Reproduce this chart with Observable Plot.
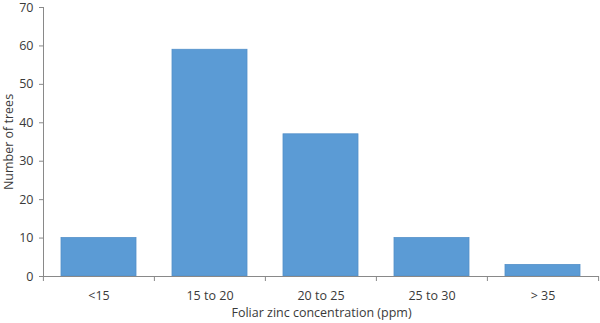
<!DOCTYPE html>
<html>
<head>
<meta charset="utf-8">
<script src="https://cdn.jsdelivr.net/npm/d3@7"></script>
<script src="https://cdn.jsdelivr.net/npm/@observablehq/plot@0.6"></script>
<style>
  html, body { margin: 0; padding: 0; background: #fff; }
  #chart svg { display: block; }
</style>
</head>
<body>
<div id="chart"></div>
<script>
const categories = ["<15", "15 to 20", "20 to 25", "25 to 30", "> 35"];
const trees = [10, 59, 37, 10, 3];
const yTicks = [0, 10, 20, 30, 40, 50, 60, 70];

const data = categories.map((c, i) => ({category: c, count: trees[i]}));

const W = 600, H = 323;
const mL = 43, mR = 1, mT = 7, mB = 47;
const step = (W - mL - mR) / categories.length;
const font = "'Open Sans', 'Noto Sans', sans-serif";
const axisColor = "#898989";
const textColor = "#3a3a3a";

const chart = Plot.plot({
  width: W,
  height: H,
  marginLeft: mL,
  marginRight: mR,
  marginTop: mT,
  marginBottom: mB,
  style: {fontFamily: font, fontSize: "12px", color: textColor, background: "#fff", overflow: "visible"},
  x: {domain: categories, paddingInner: 0.32, paddingOuter: 0.16, align: 0.5},
  y: {domain: [0, 70]},
  marks: [
    Plot.barY(data, {x: "category", y: "count", fill: "#5b9bd5", stroke: "#5390c9", strokeWidth: 0.8}),
    Plot.ruleY([0], {stroke: axisColor, strokeWidth: 1}),
    Plot.frame({anchor: "left", stroke: axisColor}),
    Plot.axisY({ticks: yTicks, tickSize: 4, tickPadding: 6, stroke: axisColor, fill: textColor, fontSize: 12.5,
      label: "Number of trees", labelAnchor: "center", labelOffset: 39, labelArrow: "none"}),
    Plot.axisX({ticks: categories, tickSize: 0, tickPadding: 15, fill: textColor, fontSize: 12.5,
      label: "Foliar zinc concentration (ppm)", labelAnchor: "center", labelOffset: 40, labelArrow: "none"}),
    Plot.axisX({ticks: categories, tickSize: 5, text: null, label: null, dx: -step / 2, stroke: axisColor}),
    Plot.axisX({ticks: categories.slice(-1), tickSize: 5, text: null, label: null, dx: step / 2, stroke: axisColor})
  ]
});
document.getElementById("chart").appendChild(chart);
</script>
</body>
</html>
